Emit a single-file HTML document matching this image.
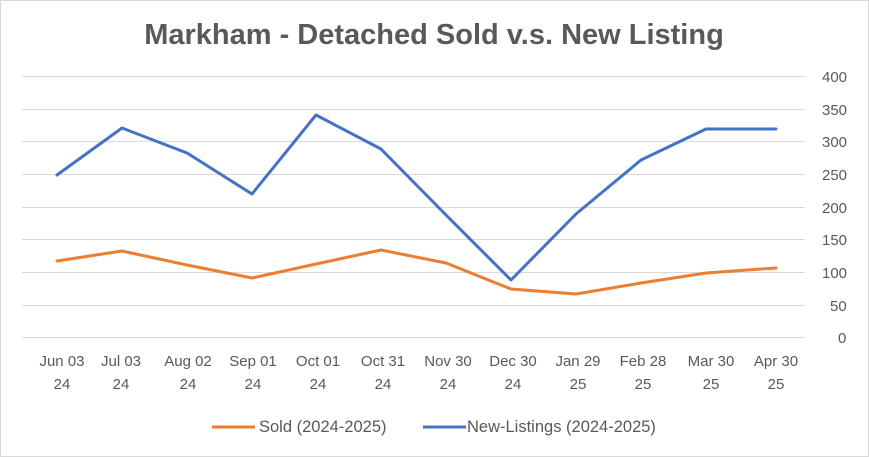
<!DOCTYPE html>
<html><head><meta charset="utf-8"><style>
html,body{margin:0;padding:0;background:#fff;}
svg{display:block;font-family:"Liberation Sans",Arial,sans-serif;}
</style></head><body>
<svg width="869" height="457" viewBox="0 0 869 457" xmlns="http://www.w3.org/2000/svg">
<rect x="0.5" y="0.5" width="868" height="456" fill="#fff" stroke="#d9d9d9"/>
<text x="434" y="44" text-anchor="middle" font-size="29" font-weight="bold" fill="#595959">Markham - Detached Sold v.s. New Listing</text>
<g stroke="#d9d9d9" stroke-width="1">
<line x1="22" x2="805" y1="76.5" y2="76.5"/>
<line x1="22" x2="805" y1="109.5" y2="109.5"/>
<line x1="22" x2="805" y1="141.5" y2="141.5"/>
<line x1="22" x2="805" y1="174.5" y2="174.5"/>
<line x1="22" x2="805" y1="207.5" y2="207.5"/>
<line x1="22" x2="805" y1="239.5" y2="239.5"/>
<line x1="22" x2="805" y1="272.5" y2="272.5"/>
<line x1="22" x2="805" y1="305.5" y2="305.5"/>
<line x1="22" x2="805" y1="337.5" y2="337.5"/>
</g>
<g font-size="15" fill="#595959" text-anchor="start">
<text x="822" y="82">400</text><text x="822" y="115">350</text><text x="822" y="147">300</text>
<text x="822" y="180">250</text><text x="822" y="213">200</text><text x="822" y="245">150</text>
<text x="822" y="278">100</text><text x="830" y="311">50</text><text x="838" y="343">0</text>
</g>
<g font-size="15" fill="#595959" text-anchor="middle">
<text x="62" y="366">Jun 03</text><text x="62" y="389">24</text>
<text x="121" y="366">Jul 03</text><text x="121" y="389">24</text>
<text x="188" y="366">Aug 02</text><text x="188" y="389">24</text>
<text x="253" y="366">Sep 01</text><text x="253" y="389">24</text>
<text x="318" y="366">Oct 01</text><text x="318" y="389">24</text>
<text x="383" y="366">Oct 31</text><text x="383" y="389">24</text>
<text x="448" y="366">Nov 30</text><text x="448" y="389">24</text>
<text x="513" y="366">Dec 30</text><text x="513" y="389">24</text>
<text x="578" y="366">Jan 29</text><text x="578" y="389">25</text>
<text x="643" y="366">Feb 28</text><text x="643" y="389">25</text>
<text x="711" y="366">Mar 30</text><text x="711" y="389">25</text>
<text x="776" y="366">Apr 30</text><text x="776" y="389">25</text>
</g>
<polyline fill="none" stroke="#ed7d31" stroke-width="3" stroke-linejoin="round" stroke-linecap="round"
points="57,261 122,251 187,265 252,278 316,264 381,250 446,263 511,289 576,294 641,283 706,273 776,268"/>
<polyline fill="none" stroke="#4472c4" stroke-width="3" stroke-linejoin="round" stroke-linecap="round"
points="57,175 122,128 187,153 252,194 316,115 381,149 446,215 511,280 576,214 641,160 706,129 776,129"/>
<line x1="212" x2="255" y1="427" y2="427" stroke="#ed7d31" stroke-width="3"/>
<text x="259" y="432" font-size="16.5" fill="#595959">Sold (2024-2025)</text>
<line x1="423" x2="466" y1="427" y2="427" stroke="#4472c4" stroke-width="3"/>
<text x="467" y="432" font-size="16.5" fill="#595959">New-Listings (2024-2025)</text>
</svg>
</body></html>
